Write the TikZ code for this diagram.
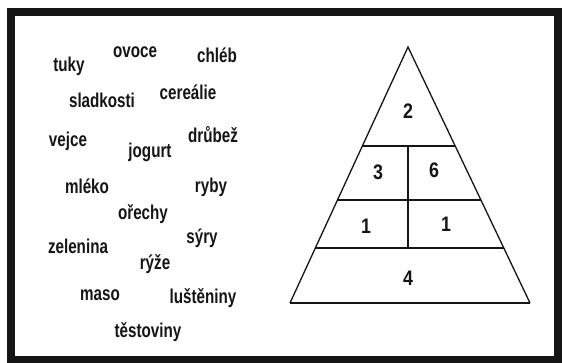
\documentclass[tikz,border=0pt]{standalone}
\usepackage{fontspec}
\usepackage{graphicx}
\setmainfont{Liberation Sans}
\usetikzlibrary{calc}
\definecolor{ink}{HTML}{151515}
\tikzset{
  word/.style={inner sep=0pt, text=ink, font=\fontsize{20}{23}\selectfont\bfseries},
  num/.style={inner sep=0pt, text=ink, font=\fontsize{21}{24}\selectfont\bfseries},
  side/.style={draw=ink, line width=1.3pt},
  shelf/.style={draw=ink, line width=2.4pt},
  divider/.style={draw=ink, line width=1.8pt}
}
\newcommand{\wordtxt}[1]{\scalebox{0.76}[1]{#1}}
\newcommand{\numtxt}[1]{\scalebox{0.85}[1]{#1}}
\begin{document}
\begin{tikzpicture}[x=1pt,y=-1pt]
\useasboundingbox (0,0) rectangle (562,363);
\fill[white] (0,0) rectangle (562,363);
% frame
\fill[ink] (7,8) rectangle (562,363);
\fill[white] (15,16) rectangle (554,356);
% words
\node[word] (tuky) at (69,66) {\wordtxt{tuky}};
\node[word] (ovoce) at (135,52) {\wordtxt{ovoce}};
\node[word] (chleb) at (217,55) {\wordtxt{chléb}};
\node[word] (sladkosti) at (102,100) {\wordtxt{sladkosti}};
\node[word] (cerealie) at (188,92) {\wordtxt{cereálie}};
\node[word] (vejce) at (68,141) {\wordtxt{vejce}};
\node[word] (jogurt) at (150,152) {\wordtxt{jogurt}};
\node[word] (drubez) at (213,135) {\wordtxt{drůbež}};
\node[word] (mleko) at (87,186) {\wordtxt{mléko}};
\node[word] (ryby) at (211,187) {\wordtxt{ryby}};
\node[word] (orechy) at (143,214) {\wordtxt{ořechy}};
\node[word] (zelenina) at (78,246) {\wordtxt{zelenina}};
\node[word] (syry) at (202,238) {\wordtxt{sýry}};
\node[word] (ryze) at (155,264) {\wordtxt{rýže}};
\node[word] (maso) at (100,295) {\wordtxt{maso}};
\node[word] (lusteniny) at (203,298) {\wordtxt{luštěniny}};
\node[word] (testoviny) at (148,332) {\wordtxt{těstoviny}};
% pyramid
\coordinate (A) at (408,47);
\coordinate (BL) at (290,303);
\coordinate (BR) at (530,303);
\coordinate (L1) at ($(A)!0.387!(BL)$);
\coordinate (R1) at ($(A)!0.387!(BR)$);
\coordinate (L2) at ($(A)!0.598!(BL)$);
\coordinate (R2) at ($(A)!0.598!(BR)$);
\coordinate (L3) at ($(A)!0.785!(BL)$);
\coordinate (R3) at ($(A)!0.785!(BR)$);
\coordinate (V1) at (408,146);
\coordinate (V3) at (408,248);
\draw[side] (BL) -- (A) -- (BR);
\draw[shelf] (BL) -- (BR);
\draw[shelf] (L1) -- (R1);
\draw[shelf] (L2) -- (R2);
\draw[shelf] (L3) -- (R3);
\draw[divider] (V1) -- (V3);
\node[num] (n2) at (408,111) {\numtxt{2}};
\node[num] (n3) at (378,172) {\numtxt{3}};
\node[num] (n6) at (434,170) {\numtxt{6}};
\node[num] (n1a) at (366,226) {\numtxt{1}};
\node[num] (n1b) at (446,224) {\numtxt{1}};
\node[num] (n4) at (408,278) {\numtxt{4}};
\end{tikzpicture}
\end{document}
